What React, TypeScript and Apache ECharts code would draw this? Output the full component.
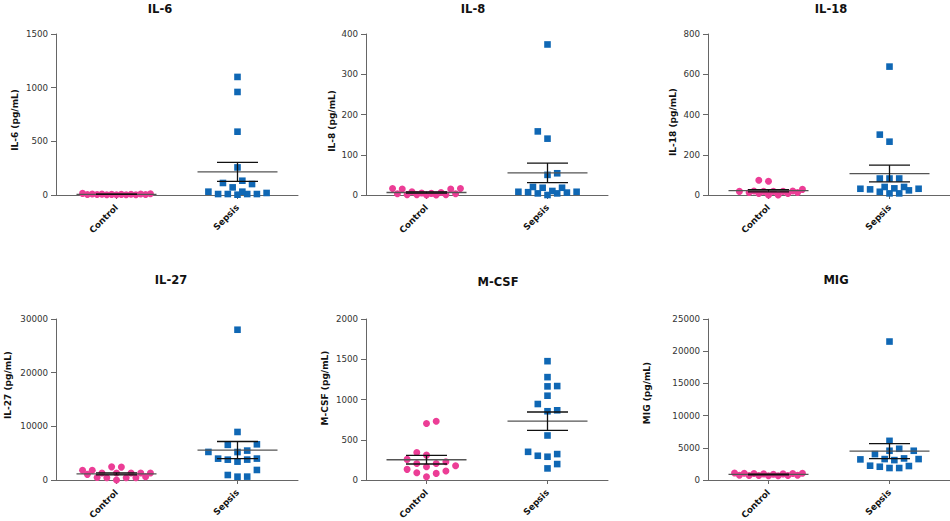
import React, { useEffect, useRef } from 'react';
import * as echarts from 'echarts';

// panel labels
const panelTitles = ['IL-6', 'IL-8', 'IL-18', 'IL-27', 'M-CSF', 'MIG'];
const axisNames = ['IL-6 (pg/mL)', 'IL-8 (pg/mL)', 'IL-18 (pg/mL)', 'IL-27 (pg/mL)', 'M-CSF (pg/mL)', 'MIG (pg/mL)'];
const groupNames = ['Control', 'Sepsis'];
const yMaxes = [1500, 400, 800, 30000, 2000, 25000];
const ySteps = [500, 100, 200, 10000, 500, 5000];

// measured concentrations (pg/mL)
const il6Control = [12, 8, 5, 3, 6, 2, 10, 4, 15, 3, 7, 2, 5, 9, 6];
const il6Sepsis = [1100, 960, 590, 257, 112, 71, 102, 133, 31, 9, 9, 3, 31, 9, 9, 19];
const il8Control = [16, 15, 3, 1, 0, 3, 16, 1, 0, 6, 1, 8, 4, 15, 5];
const il8Sepsis = [374, 158, 140, 54, 50, 8, 8, 18, 6, 20, 0, 10, 4, 18, 4, 7];
const il18Control = [73, 68, 20, 12, 18, 8, 18, 0, 18, 0, 18, 8, 20, 12, 28];
const il18Sepsis = [638, 300, 265, 82, 82, 82, 31, 28, 16, 40, 33, 40, 23, 31, 8, 8];
const il27Control = [1050, 1800, 450, 1300, 2400, 430, 1320, 2450, 0, 1290, 440, 1310, 420, 1300, 620, 1800];
const il27Sepsis = [28000, 8950, 6650, 6550, 5480, 5230, 5210, 3980, 3800, 3420, 3790, 3990, 1870, 930, 620, 630];
const mcsfControl = [730, 701, 309, 342, 256, 227, 206, 177, 206, 132, 91, 82, 111, 165, 41];
const mcsfSepsis = [1476, 1278, 1167, 1163, 1047, 944, 866, 854, 553, 350, 301, 322, 289, 198, 144];
const migControl = [1050, 750, 1000, 700, 950, 650, 1100, 700, 900, 650, 950, 750, 1000, 700, 1050];
const migSepsis = [21500, 6080, 4540, 4850, 4540, 4020, 3250, 3250, 3350, 3200, 3090, 2220, 2170, 2060, 1860, 1860];

const controlSets = [il6Control, il8Control, il18Control, il27Control, mcsfControl, migControl];
const sepsisSets = [il6Sepsis, il8Sepsis, il18Sepsis, il27Sepsis, mcsfSepsis, migSepsis];

// layout (px)
const PLOT_W = 242;
const PLOT_H = 161;
const LAYOUT = [
  { left: 56, top: 34, titleX: 160, titleY: 9, nameX: 15, nameY: 120 },
  { left: 366, top: 34, titleX: 473, titleY: 9, nameX: 332, nameY: 121 },
  { left: 708, top: 34, titleX: 831, titleY: 9, nameX: 673, nameY: 122 },
  { left: 56, top: 319, titleX: 171, titleY: 280, nameX: 8, nameY: 385 },
  { left: 366, top: 319, titleX: 498, titleY: 282, nameX: 325, nameY: 388 },
  { left: 708, top: 319, titleX: 836, titleY: 280, nameX: 647, nameY: 393 },
];
const FONT = '"DejaVu Sans", Verdana, sans-serif';
const PINK = '#ec3d96';
const BLUE = '#0f67b4';
const AXIS_COLOR = '#666';
const HALF_SLOT = 4.85;
const MAX_SLOT = 7;
const DX = 9.5;
const DY = 9;

// simple beeswarm: returns a horizontal slot per value
const swarmSlots = (values: number[], max: number) => {
  const pxPer = PLOT_H / max;
  const order = values.map((_, i) => i).sort((a, b) => values[a] - values[b]);
  const placed: { k: number; y: number }[] = [];
  const slots = new Array(values.length).fill(0);
  for (const i of order) {
    const y = values[i] * pxPer;
    const dist = (k: number) => {
      let m = Infinity;
      for (const p of placed) {
        const dx = ((k - p.k) * HALF_SLOT) / DX;
        const dy = (y - p.y) / DY;
        m = Math.min(m, Math.sqrt(dx * dx + dy * dy));
      }
      return m;
    };
    const right = placed.filter((p) => p.k > 0).length;
    const left = placed.filter((p) => p.k < 0).length;
    let chosen: number | null = null;
    let best = 0;
    let bestScore = -1;
    for (let m = 0; m <= MAX_SLOT && chosen === null; m++) {
      const cands = m === 0 ? [0] : right <= left ? [m, -m] : [-m, m];
      for (const k of cands) {
        const d = dist(k);
        if (d >= 1) { chosen = k; break; }
        if (d > bestScore + 1e-6) { bestScore = d; best = k; }
      }
    }
    const k = chosen === null ? best : chosen;
    slots[i] = k;
    placed.push({ k, y });
  }
  return slots;
};

const meanSem = (values: number[]) => {
  const n = values.length;
  const mean = values.reduce((s, v) => s + v, 0) / n;
  const sd = Math.sqrt(values.reduce((s, v) => s + (v - mean) ** 2, 0) / (n - 1));
  return [mean, sd / Math.sqrt(n)];
};

const App: React.FC = () => {
  const chartRef = useRef<HTMLDivElement>(null);

  useEffect(() => {
    document.body.style.margin = '0';
    if (!chartRef.current) return;
    const chart = echarts.init(chartRef.current, null, { renderer: 'svg' });
    const unitPerPx = 2 / PLOT_W;

    const grids: any[] = [];
    const xAxes: any[] = [];
    const yAxes: any[] = [];
    const series: any[] = [];
    const graphics: any[] = [];

    LAYOUT.forEach((lay, i) => {
      grids.push({ left: lay.left, top: lay.top, width: PLOT_W, height: PLOT_H, outerBoundsMode: 'none' });
      xAxes.push({
        type: 'category',
        gridIndex: i,
        data: groupNames,
        axisLine: { lineStyle: { color: AXIS_COLOR, width: 1 } },
        axisTick: { show: true, alignWithLabel: true, length: 4, lineStyle: { color: AXIS_COLOR } },
        axisLabel: { rotate: 45, margin: 11, fontFamily: FONT, fontSize: 8.8, fontWeight: 'bold', color: '#111' },
      });
      xAxes.push({ type: 'value', gridIndex: i, min: 0, max: 2, show: false });
      yAxes.push({
        type: 'value',
        gridIndex: i,
        min: 0,
        max: yMaxes[i],
        interval: ySteps[i],
        axisLine: { show: true, lineStyle: { color: AXIS_COLOR, width: 1 } },
        axisTick: { show: true, length: 5, lineStyle: { color: AXIS_COLOR } },
        axisLabel: {
          margin: 8,
          fontFamily: FONT,
          fontSize: 8.7,
          color: '#333',
          formatter: (v: number) => String(v),
        },
        splitLine: { show: false },
      });

      const sets = [controlSets[i], sepsisSets[i]];
      sets.forEach((vals, g) => {
        const slots = swarmSlots(vals, yMaxes[i]);
        series.push({
          type: 'scatter',
          xAxisIndex: 2 * i + 1,
          yAxisIndex: i,
          symbol: g === 0 ? 'circle' : 'rect',
          symbolSize: g === 0 ? 7 : 6.6,
          itemStyle: { color: g === 0 ? PINK : BLUE, opacity: 1 },
          z: 2,
          data: vals.map((v, j) => [g + 0.5 + slots[j] * HALF_SLOT * unitPerPx, v]),
        });
      });

      series.push({
        type: 'custom',
        xAxisIndex: 2 * i + 1,
        yAxisIndex: i,
        z: 3,
        encode: { x: 0, y: 1 },
        data: sets.map((vals, g) => [g + 0.5, ...meanSem(vals)]),
        renderItem: (_params: any, api: any) => {
          const c = api.value(0);
          const m = api.value(1);
          const s = api.value(2);
          const pm = api.coord([c, m]);
          const pu = api.coord([c, m + s]);
          const pl = api.coord([c, m - s]);
          const line = (x1: number, y1: number, x2: number, y2: number, color: string) => ({
            type: 'line',
            shape: { x1, y1, x2, y2 },
            style: { stroke: color, lineWidth: 1.3 },
          });
          return {
            type: 'group',
            children: [
              line(pm[0] - 40, pm[1], pm[0] + 40, pm[1], '#555'),
              line(pu[0], pu[1], pl[0], pl[1], '#111'),
              line(pu[0] - 20.5, pu[1], pu[0] + 20.5, pu[1], '#111'),
              line(pl[0] - 20.5, pl[1], pl[0] + 20.5, pl[1], '#111'),
            ],
          };
        },
      });

      graphics.push({
        type: 'text',
        x: lay.titleX,
        y: lay.titleY,
        style: { text: panelTitles[i], align: 'center', verticalAlign: 'middle', font: `bold 11.5px ${FONT}`, fill: '#111' },
      });
      graphics.push({
        type: 'text',
        x: lay.nameX,
        y: lay.nameY,
        rotation: Math.PI / 2,
        style: { text: axisNames[i], align: 'center', verticalAlign: 'middle', font: `bold 9px ${FONT}`, fill: '#111' },
      });
    });

    chart.setOption({
      animation: false,
      backgroundColor: '#ffffff',
      grid: grids,
      xAxis: xAxes,
      yAxis: yAxes,
      series,
      graphic: graphics,
    });

    return () => {
      chart.dispose();
    };
  }, []);

  return <div ref={chartRef} style={{ width: 950, height: 521 }} />;
};

export default App;
